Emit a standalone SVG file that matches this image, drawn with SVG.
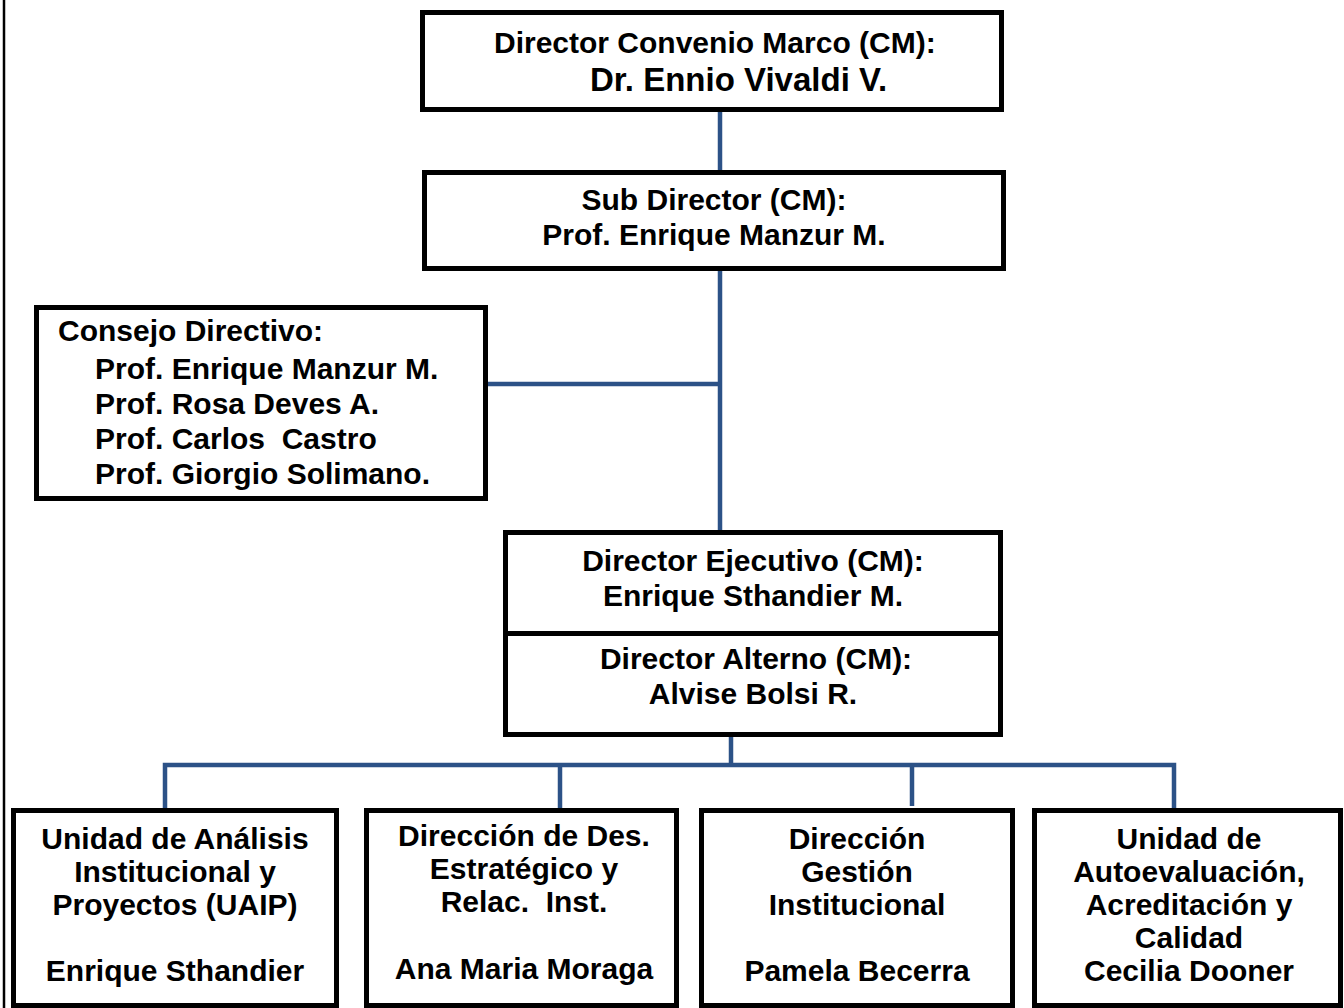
<svg xmlns="http://www.w3.org/2000/svg" width="1344" height="1008" viewBox="0 0 1344 1008">
<style>
.box{fill:#fff;stroke:#000;stroke-width:5}
.t{font-family:"Liberation Sans",Arial,sans-serif;font-weight:bold;font-size:30px;fill:#000;white-space:pre}
.c{text-anchor:middle}
.ln{stroke:#2c5287;stroke-width:4.5;fill:none}
</style>
<rect width="1344" height="1008" fill="#fff"/>
<line x1="4" y1="0" x2="4" y2="1008" stroke="#000" stroke-width="2.5"/>
<g id="connectors">
<line class="ln" x1="720" y1="110" x2="720" y2="172"/>
<line class="ln" x1="720" y1="268" x2="720" y2="532"/>
<line class="ln" x1="487" y1="384" x2="720" y2="384"/>
<line class="ln" x1="731" y1="735" x2="731" y2="765"/>
<polyline class="ln" points="165,808 165,765 1174,765 1174,809"/>
<line class="ln" x1="560" y1="765" x2="560" y2="808"/>
<line class="ln" x1="912" y1="765" x2="912" y2="806"/>
</g>
<g id="director">
<rect class="box" x="422.5" y="12.5" width="579" height="97"/>
<text class="t" x="494" y="53">Director Convenio Marco (CM):</text>
<text class="t" x="590" y="91" style="font-size:33px">Dr. Ennio Vivaldi V.</text>
</g>
<g id="subdirector">
<rect class="box" x="424.5" y="172.5" width="579" height="96"/>
<text class="t c" x="714" y="210">Sub Director (CM):</text>
<text class="t c" x="714" y="245">Prof. Enrique Manzur M.</text>
</g>
<g id="consejo">
<rect class="box" x="36.5" y="307.5" width="449" height="191"/>
<text class="t" x="58" y="341">Consejo Directivo:</text>
<text class="t" x="95" y="379">Prof. Enrique Manzur M.</text>
<text class="t" x="95" y="414">Prof. Rosa Deves A.</text>
<text class="t" x="95" y="449">Prof. Carlos  Castro</text>
<text class="t" x="95" y="484">Prof. Giorgio Solimano.</text>
</g>
<g id="ejecutivo">
<rect class="box" x="505.5" y="532.5" width="495" height="101"/>
<text class="t c" x="753" y="571">Director Ejecutivo (CM):</text>
<text class="t c" x="753" y="606">Enrique Sthandier M.</text>
</g>
<g id="alterno">
<rect class="box" x="505.5" y="633.5" width="495" height="101"/>
<text class="t c" x="756" y="669">Director Alterno (CM):</text>
<text class="t c" x="753" y="704">Alvise Bolsi R.</text>
</g>
<g id="uaip">
<rect class="box" x="13.5" y="810.5" width="323" height="195"/>
<text class="t c" x="175" y="849">Unidad de Análisis</text>
<text class="t c" x="175" y="882">Institucional y</text>
<text class="t c" x="175" y="915">Proyectos (UAIP)</text>
<text class="t c" x="175" y="981">Enrique Sthandier</text>
</g>
<g id="desarrollo">
<rect class="box" x="366.5" y="810.5" width="310" height="195"/>
<text class="t c" x="524" y="846">Dirección de Des.</text>
<text class="t c" x="524" y="879">Estratégico y</text>
<text class="t c" x="524" y="912">Relac.  Inst.</text>
<text class="t c" x="524" y="979">Ana Maria Moraga</text>
</g>
<g id="gestion">
<rect class="box" x="701.5" y="810.5" width="311" height="195"/>
<text class="t c" x="857" y="849">Dirección</text>
<text class="t c" x="857" y="882">Gestión</text>
<text class="t c" x="857" y="915">Institucional</text>
<text class="t c" x="857" y="981">Pamela Becerra</text>
</g>
<g id="calidad">
<rect class="box" x="1034.5" y="810.5" width="306" height="195"/>
<text class="t c" x="1189" y="849">Unidad de</text>
<text class="t c" x="1189" y="882">Autoevaluación,</text>
<text class="t c" x="1189" y="915">Acreditación y</text>
<text class="t c" x="1189" y="948">Calidad</text>
<text class="t c" x="1189" y="981">Cecilia Dooner</text>
</g>
</svg>
